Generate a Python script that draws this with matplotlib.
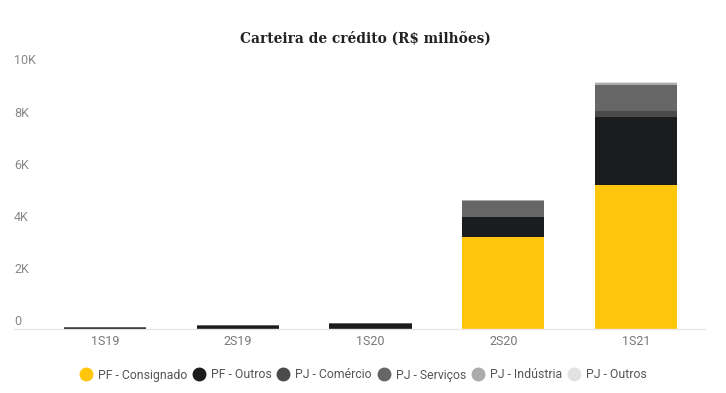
import numpy as np
from matplotlib import pyplot as plt
from matplotlib.lines import Line2D
from matplotlib import transforms

periodos = ["1S19", "2S19", "1S20", "2S20", "1S21"]

# valores em R$ mil
pf_consignado = [0, 0, 0, 3540, 5520]
pf_outros = [30, 120, 190, 740, 2620]
pj_comercio = [20, 10, 10, 20, 230]
pj_servicos = [30, 30, 40, 620, 980]
pj_industria = [0, 0, 0, 20, 60]
pj_outros = [0, 0, 0, 20, 40]

series = [pf_consignado, pf_outros, pj_comercio, pj_servicos, pj_industria, pj_outros]
nomes = ["PF - Consignado", "PF - Outros", "PJ - Comércio", "PJ - Serviços",
         "PJ - Indústria", "PJ - Outros"]
cores = ["#FFC60B", "#1B1C1E", "#4B4B4B", "#666666", "#ABABAB", "#E2E2E2"]

yticks = [0, 2000, 4000, 6000, 8000, 10000]
ytick_labels = ["0", "2K", "4K", "6K", "8K", "10K"]

fig = plt.figure(figsize=(7.26, 3.93), dpi=100)
ax = fig.add_axes([14/726, 1-329/393, (705-14)/726, (329-68)/393])

x = np.arange(len(periodos))
base = np.zeros(len(periodos))
for vals, nome, cor in zip(series, nomes, cores):
	ax.bar(x, vals, width=0.62, bottom=base, color=cor, label=nome, zorder=2)
	base += np.array(vals)

ax.set_xlim(-0.685, 4.52)
ax.set_ylim(0, 10000)
ax.set_xticks(x)
ax.set_xticklabels(periodos, fontsize=9, color="#777777", fontfamily="Roboto")
ax.tick_params(axis='x', length=0, pad=4)
ax.set_yticks([])

off = transforms.ScaledTranslation(0, 0.5/72, fig.dpi_scale_trans)
for v, lab in zip(yticks, ytick_labels):
	ax.text(0, v, lab, transform=ax.get_yaxis_transform() + off, ha='left', va='bottom',
			fontsize=9, color="#888888", fontfamily="Roboto")

for s in ["top", "right", "left"]:
	ax.spines[s].set_visible(False)
ax.spines["bottom"].set_color("#E6E6E6")
ax.spines["bottom"].set_linewidth(1)

fig.text(365/726, 1-38/393, "Carteira de crédito (R$ milhões)", ha='center', va='center',
		 fontsize=11, fontfamily="DejaVu Serif", fontweight='bold', fontstretch='condensed',
		 color="#222222")

handles = [Line2D([], [], marker='o', linestyle='none', markersize=9,
				  markerfacecolor=c, markeredgecolor=c) for c in cores]
fig.legend(handles, nomes, loc='center', bbox_to_anchor=(363/726, 1-375/393), ncol=6,
		   frameon=False, handletextpad=0.5, columnspacing=0.45, handlelength=1.0,
		   prop={'family': 'Roboto', 'size': 8.8}, labelcolor="#555555")

plt.savefig("out.png", dpi=100)
